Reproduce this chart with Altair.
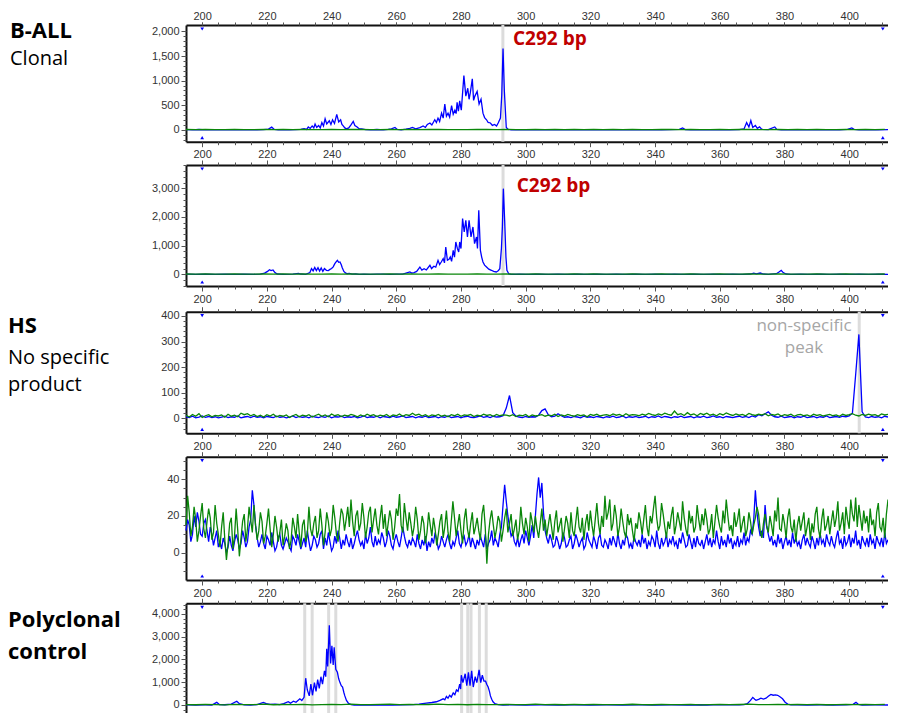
import altair as alt
import pandas as pd

W, H = 880, 705
XDOM = [195, 412]
XRANGE = [178, 880]
XMAJOR = list(range(200, 401, 20))
XMINOR = list(range(200, 411, 5))

# ---------------- data (bp, signal) ----------------
p1_blue = [
    (195.2, 5), (197, 0), (199, 8), (201, 0), (203, 5), (205, 0), (207, 3), (209, 0), (211, 6), (213, 0),
    (215, 4), (217, 0), (219, 5), (220.5, 15), (221.5, 55), (222.3, 10), (223.5, 0), (225, 5), (227, 0),
    (229, 6), (230.5, 10), (231.5, 25), (232.3, 10), (232.8, 60), (233.4, 30), (234, 80), (234.5, 40),
    (234.9, 120), (235.4, 50), (236, 90), (236.5, 40), (237, 150), (237.5, 80), (238, 225), (238.5, 120),
    (239.3, 185), (239.8, 110), (240.3, 205), (240.9, 130), (241.6, 314), (242.2, 160), (242.8, 205),
    (243.2, 110), (243.6, 80), (244.1, 40), (244.6, 20), (245.3, 40), (246, 100), (246.7, 170), (247.2, 90),
    (247.9, 60), (248.5, 25), (249.3, 20), (250.5, 5), (252, 0), (254, 8), (256, 0), (257.5, 10), (258.5, 20),
    (259.6, 50), (260.3, 10), (261.5, 0), (263, 15), (264.2, 30), (265, 50), (266, 20), (267.3, 45),
    (268.3, 80), (269, 50), (269.6, 110), (270.4, 140), (271, 100), (271.9, 205), (272.4, 150), (272.9, 240),
    (273.4, 170), (274, 340), (274.5, 240), (275, 525), (275.5, 280), (276, 340), (276.5, 260), (277.1, 495),
    (277.6, 320), (278.1, 400), (278.5, 330), (278.8, 560), (279.2, 380), (279.6, 590), (280.1, 400),
    (280.9, 1103), (281.5, 686), (282.1, 846), (282.5, 622), (282.9, 760), (283.5, 1038), (283.9, 600),
    (284.3, 686), (285, 782), (285.6, 525), (286.2, 622), (286.8, 340), (287.3, 250), (287.9, 205),
    (288.4, 150), (289.1, 140), (289.7, 90), (290.4, 110), (291, 80), (291.5, 140), (292.2, 240),
    (292.6, 700), (293.0, 1650), (293.4, 800), (294.0, 50), (294.6, 10), (295.5, 0), (297, 5), (300, 0),
    (303, 6), (306, 0), (309, 5), (312, 0), (315, 4), (318, 0), (321, 5), (324, 0), (327, 6), (330, 0),
    (333, 5), (336, 0), (339, 4), (342, 0), (345, 5), (347.5, 10), (348.5, 40), (349.3, 5), (351, 0),
    (354, 5), (357, 0), (360, 4), (363, 0), (366, 5), (367.5, 20), (368.3, 150), (369, 60), (369.6, 190),
    (370.2, 50), (371, 90), (371.6, 30), (372.3, 60), (373, 10), (375, 5), (377, 60), (377.6, 10), (379, 0),
    (382, 5), (385, 0), (388, 4), (391, 0), (394, 5), (397, 0), (399.5, 10), (400.8, 40), (401.5, 10),
    (403, 0), (406, 5), (409, 0), (412, 4),
]
p1_green = [8, 5, 10, 6, 4, 9, 7, 5, 11, 6, 8, 4, 10, 7, 5, 9, 6, 12, 8, 5, 7, 10, 6, 9, 4, 8, 11, 6, 7, 5,
            10, 8, 6, 9, 5, 7, 12, 6, 8, 4, 9, 7, 10, 5, 8, 6, 11, 7, 5, 9, 8, 6, 10, 4, 7, 9, 5, 8, 11, 6,
            7, 10, 5, 8, 6, 9, 4, 7, 10, 6, 8, 5, 9]

p2_blue = [
    (195.2, 5), (198, 0), (201, 6), (204, 0), (207, 5), (210, 0), (213, 4), (216, 0), (218, 5), (219.3, 40),
    (220.2, 100), (220.8, 160), (221.3, 130), (221.9, 150), (222.5, 60), (223.2, 10), (225, 0), (228, 5),
    (229.8, 30), (230.3, 10), (232, 0), (233.3, 60), (233.8, 200), (234.3, 120), (234.8, 240), (235.3, 130),
    (235.8, 230), (236.3, 110), (236.8, 220), (237.3, 100), (237.8, 200), (238.4, 140), (239.0, 130),
    (239.5, 170), (240.0, 200), (240.5, 260), (241.0, 370), (241.4, 430), (241.8, 488), (242.2, 420),
    (242.6, 430), (243.0, 330), (243.3, 230), (243.8, 100), (244.3, 50), (244.8, 20), (245.5, 30),
    (246.3, 5), (247.5, 10), (248.5, 0), (250, 5), (252, 0), (254, 8), (256, 5), (258, 0), (260, 3),
    (262, 5), (264.2, 82), (264.8, 40), (265.5, 60), (266.3, 100), (267.3, 254), (267.9, 150), (268.6, 197),
    (269.3, 150), (270.4, 313), (270.9, 200), (271.6, 280), (272.2, 250), (272.9, 488), (273.4, 340),
    (273.9, 430), (274.5, 546), (274.9, 400), (275.3, 953), (275.8, 488), (276.3, 520), (276.7, 604),
    (277.1, 450), (277.6, 837), (278.0, 600), (278.4, 1128), (278.9, 895), (279.3, 780), (279.6, 1128),
    (280.0, 900), (280.5, 1942), (281.0, 1477), (281.5, 1884), (282.0, 1302), (282.5, 1884), (283.1, 1302),
    (283.7, 1651), (284.2, 1070), (284.8, 1302), (285.1, 900), (285.5, 2233), (286.0, 837), (286.4, 600),
    (286.8, 430), (287.3, 320), (287.9, 254), (288.6, 180), (289.4, 140), (290.1, 100), (290.9, 82),
    (291.5, 120), (292.0, 197), (292.5, 900), (292.8, 1651), (293.1, 2988), (293.5, 1884), (293.9, 600),
    (294.2, 140), (294.8, 10), (295.5, 0), (298, 5), (301, 0), (304, 6), (307, 0), (310, 5), (313, 0),
    (316, 4), (319, 0), (322, 6), (325, 0), (328, 5), (331, 0), (334, 4), (337, 0), (340, 6), (343, 0),
    (346, 5), (349, 0), (352, 4), (355, 0), (358, 6), (361, 0), (364, 5), (367, 0), (369.5, 10),
    (370.5, 40), (371.3, 15), (372.5, 45), (373.5, 10), (375, 0), (377.5, 20), (378.3, 80), (379, 140),
    (379.6, 60), (380.5, 10), (382, 0), (385, 5), (388, 0), (391, 4), (394, 0), (397, 5), (400, 0),
    (403, 6), (406, 0), (409, 5), (412, 0),
]
p2_green = [10, 6, 12, 8, 5, 11, 7, 9, 13, 6, 10, 5, 12, 8, 7, 11, 6, 14, 9, 6, 8, 12, 7, 10, 5, 9, 13, 7,
            8, 6, 12, 9, 7, 11, 6, 8, 14, 7, 9, 5, 10, 8, 12, 6, 9, 7, 13, 8, 6, 10, 9, 7, 12, 5, 8, 10, 6,
            9, 13, 7, 8, 12, 6, 9, 7, 10, 5, 8, 12, 7, 9, 6, 10]

p3_blue = [6, 3, 8, 2, 5, 9, 4, 7, 3, 6,
           2, 5, 8, 3, 6, 4, 9, 2, 5, 7,
           3, 8, 4, 6, 2, 7, 5, 3, 8, 4,
           6, 2, 5, 9, 3, 7, 4, 6, 2, 8,
           5, 3, 7, 4, 9, 2, 6, 5, 8, 3,
           6, 4, 7, 2, 5, 9, 3, 6, 4, 8,
           2, 7, 5, 3, 8, 4, 6, 9, 3, 5,
           7, 2, 6, 4, 8, 3, 5, 7, 2, 6,
           4, 9, 3, 5, 7, 2, 6, 8, 4, 3,
           6, 9, 4, 7, 3, 8, 5, 6, 10, 40,
           89, 22, 8, 5, 3, 7, 4, 6, 5, 12,
           30, 37, 14, 6, 8, 18, 10, 4, 6, 3,
           7, 5, 2, 8, 4, 6, 3, 7, 5, 2,
           6, 4, 8, 3, 5, 9, 2, 6, 4, 7,
           3, 5, 8, 2, 6, 4, 9, 3, 7, 5,
           2, 6, 4, 8, 3, 5, 7, 2, 6, 4,
           8, 3, 5, 9, 4, 6, 2, 7, 5, 3,
           6, 8, 4, 7, 3, 9, 5, 14, 10, 18,
           25, 12, 6, 4, 8, 3, 5, 7, 2, 6,
           4, 8, 3, 5, 7, 2, 6, 4, 9, 3,
           5, 7, 4, 8, 6, 9, 20, 170, 328, 25,
           5, 3, 7, 4, 6, 2, 8, 5]
p3_green = [12, 5, 15, 8, 18, 3, 10, 14, 6, 11,
            9, 13, 4, 16, 8, 12, 6, 20, 14, 18,
            10, 15, 7, 12, 5, 14, 9, 16, 6, 11,
            8, 13, 3, 10, 15, 6, 12, 9, 14, 5,
            11, 16, 8, 13, 6, 17, 10, 14, 7, 12,
            9, 15, 11, 6, 13, 8, 16, 10, 14, 7,
            12, 9, 15, 6, 13, 10, 17, 8, 14, 11,
            20, 12, 16, 9, 14, 7, 13, 10, 15, 8,
            12, 6, 14, 10, 16, 8, 13, 11, 15, 7,
            12, 9, 16, 11, 14, 8, 15, 10, 13, 12,
            9, 14, 7, 12, 10, 15, 6, 13, 9, 11,
            14, 8, 12, 10, 16, 7, 13, 9, 15, 11,
            8, 14, 10, 13, 6, 15, 11, 16, 9, 12,
            14, 10, 17, 12, 15, 9, 18, 11, 14, 13,
            10, 16, 12, 19, 14, 11, 17, 13, 20, 15,
            12, 28, 14, 18, 11, 22, 13, 17, 10, 19,
            14, 20, 12, 16, 10, 18, 13, 21, 15, 11,
            17, 12, 15, 10, 19, 14, 11, 16, 13, 18,
            10, 15, 12, 17, 9, 14, 11, 16, 8, 13,
            15, 10, 13, 8, 16, 11, 14, 9, 12, 15,
            10, 13, 8, 16, 11, 14, 18, 12, 9, 15,
            11, 16, 12, 14, 9, 17, 13, 15]

p4_blue = [12, 18, 15, 6, 10, 20, 14, 22, 17, 10, 9, 16, 18, 12, 6, 14, 10, 4, 8, 12,
           3, 6, 2, 8, 5, 0, 3, 9, 4, 1, 6, 10, 7, 2, 5, 12, 8, 3, 6, 14,
           18, 34, 26, 15, 8, 3, 6, 10, 5, 2, 9, 7, 4, 11, 6, 1, 3, 8, 10, 4,
           2, 5, 8, 6, 3, 1, 9, 7, 4, 10, 6, 2, 5, 8, 3, 12, 6, 1, 4, 9,
           7, 3, 5, 10, 12, 2, 8, 4, 11, 6, 1, 3, 9, 5, 12, 8, 2, 7, 4, 10,
           6, 3, 8, 2, 5, 9, 12, 7, 4, 6, 2, 10, 5, 8, 14, 6, 3, 9, 4, 7,
           5, 11, 8, 3, 6, 12, 9, 4, 2, 7, 10, 6, 3, 8, 14, 9, 5, 3, 7, 4,
           8, 6, 3, 10, 5, 2, 7, 4, 9, 1, 6, 3, 8, 5, 11, 7, 2, 4, 9, 6,
           3, 7, 10, 5, 2, 6, 4, 8, 12, 5, 3, 7, 9, 4, 6, 10, 3, 8, 5, 2,
           7, 4, 9, 6, 3, 10, 2, 5, 7, 12, 4, 8, 6, 3, 10, 14, 26, 37, 28, 20,
           14, 9, 11, 6, 4, 8, 3, 7, 10, 5, 12, 8, 4, 9, 15, 8, 20, 32, 41, 30,
           38, 22, 12, 8, 5, 10, 7, 3, 4, 9, 6, 2, 5, 11, 8, 3, 4, 7, 9, 2,
           5, 10, 7, 3, 6, 8, 2, 4, 11, 7, 5, 3, 9, 6, 2, 8, 10, 4, 3, 7,
           5, 2, 8, 4, 9, 6, 3, 11, 5, 2, 7, 4, 10, 8, 3, 5, 2, 9, 6, 4,
           7, 3, 10, 5, 8, 2, 6, 4, 9, 7, 3, 12, 5, 2, 8, 4, 6, 10, 3, 7,
           5, 9, 4, 6, 2, 8, 5, 11, 7, 3, 4, 10, 6, 2, 8, 3, 9, 5, 4, 7,
           2, 6, 10, 4, 8, 3, 7, 5, 12, 6, 2, 9, 4, 7, 3, 10, 5, 8, 2, 6,
           4, 9, 3, 7, 5, 11, 4, 8, 6, 12, 10, 18, 34, 22, 14, 9, 12, 8, 26, 15,
           10, 6, 9, 4, 7, 3, 10, 5, 8, 2, 6, 9, 4, 7, 3, 11, 5, 8, 4, 6,
           2, 7, 10, 4, 8, 5, 3, 9, 6, 2, 8, 4, 11, 5, 7, 3, 10, 6, 4, 9,
           5, 3, 8, 12, 5, 7, 2, 9, 4, 6, 10, 3, 8, 5, 12, 4, 7, 2, 9, 6,
           4, 8, 3, 10, 5, 7, 2, 9, 6, 4, 8, 3, 11, 5, 7]
p4_green = [15, 31, 22, 9, 14, 25, 18, 6, 12, 20, 27, 13, 8, 17, 24, 19, 7, 11, 26, 16,
            10, 3, 14, 22, 7, -4, 5, 16, 19, 2, 9, 24, 12, -2, 8, 17, 21, 6, 13, 25,
            18, 11, 26, 15, 7, 12, 22, 17, 5, 9, 16, 24, 13, 3, 10, 20, 14, 6, 11, 18,
            4, 9, 16, 12, 2, 7, 19, 14, 8, 21, 11, 3, 15, 18, 6, 10, 25, 13, 9, 16,
            20, 8, 12, 24, 15, 4, 11, 22, 17, 9, 13, 26, 19, 10, 6, 16, 24, 21, 12, 18,
            25, 14, 29, 17, 9, 20, 23, 12, 16, 27, 19, 8, 14, 22, 25, 11, 18, 24, 15, 10,
            19, 26, 13, 21, 9, 16, 23, 18, 7, 14, 24, 20, 32, 15, 11, 27, 19, 12, 22, 16,
            9, 14, 25, 18, 7, 12, 20, 16, 5, 11, 22, 15, 9, 19, 13, 4, 10, 17, 21, 8,
            14, 23, 11, 6, 17, 28, 19, 9, 15, 21, 12, 5, 18, 24, 13, 8, 16, 22, 10, 14,
            19, 12, 7, 21, 26, 14, -6, 10, 18, 23, 15, 8, 13, 20, 17, 6, 12, 19, 24, 11,
            16, 21, 9, 13, 18, 7, 12, 25, 16, 10, 19, 14, 6, 22, 17, 11, 20, 13, 8, 16,
            24, 12, 18, 9, 15, 21, 14, 7, 17, 23, 11, 15, 19, 6, 13, 20, 16, 8, 22, 12,
            9, 17, 25, 14, 11, 19, 7, 16, 21, 12, 23, 15, 9, 18, 27, 16, 10, 20, 14, 31,
            18, 22, 29, 12, 16, 26, 20, 9, 14, 24, 17, 11, 8, 21, 15, 19, 12, 6, 16, 13,
            22, 17, 10, 18, 26, 14, 9, 20, 16, 24, 31, 19, 12, 15, 27, 21, 14, 8, 17, 13,
            20, 25, 10, 15, 22, 17, 12, 28, 19, 13, 9, 23, 16, 20, 11, 14, 26, 18, 12, 21,
            15, 24, 18, 10, 13, 21, 8, 17, 26, 19, 14, 11, 23, 16, 29, 20, 12, 15, 9, 22,
            14, 18, 24, 11, 16, 20, 9, 13, 22, 17, 10, 15, 19, 25, 21, 12, 8, 16, 21, 14,
            11, 20, 15, 9, 23, 17, 30, 13, 12, 21, 16, 8, 19, 24, 14, 11, 18, 6, 15, 20,
            12, 17, 22, 9, 14, 19, 7, 16, 11, 21, 25, 13, 8, 18, 24, 12, 15, 20, 10, 17,
            23, 14, 19, 28, 12, 16, 22, 10, 25, 18, 13, 29, 21, 17, 30, 14, 26, 19, 12, 23,
            16, 20, 11, 24, 15, 18, 9, 22, 27, 14, 12, 19, 8, 21, 29]

p5_blue = [
    (195.2, 5), (198, 0), (201, 3), (203, 0), (204.5, 116), (205.3, 20), (207, 10), (209, 40), (210.7, 168),
    (211.5, 60), (213, 10), (215, 0), (217, 20), (218.9, 116), (219.8, 60), (221, 30), (222.5, 40),
    (224, 20), (225.2, 60), (226.6, 142), (227.3, 80), (228.2, 170), (229, 120), (230.2, 272), (230.8, 200),
    (231.5, 336), (232.0, 1178), (232.5, 660), (233.1, 400), (233.6, 918), (234.1, 427), (234.7, 984),
    (235.2, 595), (235.7, 1113), (236.2, 725), (236.7, 1243), (237.2, 918), (237.8, 1502), (238.2, 1243),
    (238.5, 2473), (238.8, 1696), (239.3, 3508), (239.7, 1826), (240.1, 2602), (240.5, 1761), (240.8, 2537),
    (241.3, 1567), (241.8, 1437), (242.2, 1150), (242.6, 984), (243.0, 850), (243.4, 790), (243.8, 550),
    (244.1, 400), (244.6, 200), (245.2, 78), (246, 20), (247, 0), (250, 5), (253, 0), (256, 8), (259, 0),
    (262, 5), (265.2, 20), (267, 40), (269.3, 78), (271, 110), (272.4, 142), (273.5, 200), (274.5, 272),
    (275, 230), (275.5, 375), (276, 300), (276.5, 427), (277, 350), (277.6, 530), (278.1, 450), (278.6, 660),
    (279.1, 600), (279.6, 918), (279.9, 700), (280.1, 1307), (280.6, 984), (281.3, 1373), (281.8, 854),
    (282.3, 1437), (282.8, 854), (283.3, 1502), (283.8, 790), (284.4, 1243), (284.9, 984), (285.6, 1540),
    (286.1, 984), (286.6, 1307), (287.1, 1048), (287.6, 1048), (288.0, 900), (288.4, 790), (288.8, 600),
    (289.1, 400), (289.5, 250), (289.9, 142), (290.5, 60), (291.5, 20), (293, 0), (296, 5), (300, 0),
    (305, 6), (310, 0), (315, 5), (320, 0), (325, 4), (330, 0), (335, 5), (340, 0), (345, 5), (350, 0),
    (353, 10), (356, 0), (358, 10), (360, 5), (363, 5), (366, 10), (367.5, 20), (368.5, 60), (369.5, 200),
    (370.2, 334), (370.8, 250), (371.2, 207), (372, 250), (372.7, 297), (373.5, 260), (374.3, 297),
    (375, 380), (375.8, 466), (376.5, 430), (377.2, 445), (377.9, 427), (378.7, 350), (379.4, 272),
    (380.2, 120), (381, 40), (382, 10), (384, 5), (387, 0), (391, 4), (395, 0), (399, 5), (401.2, 30),
    (402.1, 116), (402.8, 30), (404, 0), (408, 5), (412, 0),
]
p5_green = [20, 10, 30, 15, 8, 25, 12, 18, 35, 10, 22, 14, 28, 9, 16, 30, 12, 40, 20, 15, 25, 35, 18, 28,
            12, 22, 38, 16, 24, 10, 30, 20, 15, 28, 12, 18, 35, 14, 22, 10, 26, 16, 30, 12, 20, 15, 32, 18,
            10, 25, 20, 14, 30, 8, 18, 26, 12, 22, 34, 16, 20, 30, 12, 24, 15, 28, 10, 18, 30, 14, 22, 12, 25]

# highlighted sizes (grey bands)
p1_marks = [292.95]
p2_marks = [293.0]
p3_marks = [403.1]
p5_marks = [231.7, 234.0, 239.1, 241.3, 280.2, 282.1, 283.1, 285.7, 287.8]
bin_marks = [200, 410.4]


def pairs_df(pairs):
    return pd.DataFrame({"bp": [p[0] for p in pairs], "val": [p[1] for p in pairs]})


def grid_df(start, step, vals):
    return pd.DataFrame({"bp": [start + step * i for i in range(len(vals))], "val": vals})


PANELS = [
    dict(top=17.0, bottom=133.7, dom=[-240.0, 2130.0], ymaj=list(range(0, 2001, 500)),
         ymin=list(range(-200, 2001, 100)), blue=pairs_df(p1_blue), green=grid_df(195, 3, p1_green),
         top_labels=True, bottom_axis=True, marks=p1_marks),
    dict(top=157.0, bottom=278.0, dom=[-408.1, 3812.8], ymaj=list(range(0, 3001, 1000)),
         ymin=list(range(-400, 3801, 200)), blue=pairs_df(p2_blue), green=grid_df(195, 3, p2_green),
         top_labels=False, bottom_axis=True, marks=p2_marks),
    dict(top=303.7, bottom=425.3, dom=[-58.7, 416.8], ymaj=list(range(0, 401, 100)),
         ymin=list(range(-40, 401, 20)), blue=grid_df(195, 1, p3_blue), green=grid_df(195, 1, p3_green),
         top_labels=False, bottom_axis=True, marks=p3_marks),
    dict(top=448.7, bottom=572.0, dom=[-14.9, 52.3], ymaj=[0, 20, 40],
         ymin=list(range(-10, 51, 5)), blue=grid_df(195, 0.5, p4_blue), green=grid_df(195, 0.5, p4_green),
         top_labels=False, bottom_axis=True, marks=[]),
    dict(top=595.3, bottom=705.0, dom=[-352.0, 4470.0], ymaj=list(range(0, 4001, 1000)),
         ymin=list(range(-200, 4401, 200)), blue=pairs_df(p5_blue), green=grid_df(195, 3, p5_green),
         top_labels=False, bottom_axis=False, marks=p5_marks),
]

AXSTYLE = dict(grid=False, title=None, labelFont="Liberation Sans", labelFontSize=11, labelColor="#333333",
               tickColor="#555555", tickWidth=1, labelOverlap=False, labelFlush=False,
               domainColor="#111111", domainWidth=2)


def xaxis(orient, offset, major, labels, tick=None, pad=2):
    if tick is None:
        tick = 5 if major else 3
    return alt.Axis(orient=orient, offset=offset, values=XMAJOR if major else XMINOR, labels=labels,
                    domain=major, tickSize=tick, labelPadding=pad, format="d", **AXSTYLE)


def yaxis(values, major):
    return alt.Axis(orient="left", offset=-XRANGE[0], values=values, labels=major, domain=major,
                    tickSize=5 if major else 3, labelPadding=2, format=",d", **AXSTYLE)


def panel(p):
    def xs(axis):
        return alt.X("bp:Q", scale=alt.Scale(domain=XDOM, range=XRANGE, nice=False, zero=False), axis=axis)

    def ys(axis):
        return alt.Y("val:Q", scale=alt.Scale(domain=p["dom"], range=[p["bottom"], p["top"]],
                                              nice=False, zero=False), axis=axis)

    layers = []
    if p["marks"]:
        layers.append(alt.Chart(pd.DataFrame({"bp": p["marks"]})).mark_rule(
            color="#dcdcdc", strokeWidth=3).encode(
            x=xs(None), y=alt.value(p["top"]), y2=alt.value(p["bottom"])))
    bottom_major = xaxis("bottom", p["bottom"] - H, True, True) if p["bottom_axis"] else None
    layers.append(alt.Chart(p["blue"]).mark_line(color="#0000ff", strokeWidth=1.3).encode(
        x=xs(bottom_major), y=ys(yaxis(p["ymaj"], True))))
    if p["top_labels"]:
        top_major = xaxis("top", -p["top"], True, True, tick=3, pad=1)
    else:
        top_major = xaxis("top", -p["top"], True, False)
    layers.append(alt.Chart(p["green"]).mark_line(color="#0a860a", strokeWidth=1.3).encode(
        x=xs(top_major), y=ys(yaxis(p["ymin"], False))))
    layers.append(alt.Chart(p["green"]).mark_line(strokeOpacity=0).encode(
        x=xs(xaxis("top", -p["top"], False, False)), y=ys(None)))
    if p["bottom_axis"]:
        layers.append(alt.Chart(p["green"]).mark_line(strokeOpacity=0).encode(
            x=xs(xaxis("bottom", p["bottom"] - H, False, False)), y=ys(None)))
    bdf = pd.DataFrame({"bp": bin_marks})
    layers.append(alt.Chart(bdf).mark_point(shape="triangle-down", filled=True, size=14, color="#0000ff",
                                            opacity=1).encode(x=xs(None), y=alt.value(p["top"] + 4)))
    if p["bottom_axis"]:
        layers.append(alt.Chart(bdf).mark_point(shape="triangle-up", filled=True, size=14, color="#0000ff",
                                                opacity=1).encode(x=xs(None), y=alt.value(p["bottom"] - 4)))
    return alt.layer(*layers).resolve_axis(x="independent", y="independent")


# text annotations: (text, x, y, size, weight, color, align)
notes = [
    ("B-ALL", 2, 30, 22, "bold", "#000000", "left"),
    ("Clonal", 2, 57, 20, "normal", "#000000", "left"),
    ("HS", 0, 325, 22, "bold", "#000000", "left"),
    ("No specific", 0, 356, 20, "normal", "#000000", "left"),
    ("product", 0, 383, 20, "normal", "#000000", "left"),
    ("Polyclonal", 0, 619, 22, "bold", "#000000", "left"),
    ("control", 0, 651, 22, "bold", "#000000", "left"),
    ("C292 bp", 505, 37, 19, "bold", "#c00000", "left"),
    ("C292 bp", 508.7, 183.7, 19, "bold", "#c00000", "left"),
    ("non-specific", 796, 322.7, 17, "normal", "#a6a6a6", "center"),
    ("peak", 796, 345.3, 17, "normal", "#a6a6a6", "center"),
]

note_layers = []
for t, x, y, s, w, c, a in notes:
    note_layers.append(alt.Chart(pd.DataFrame({"t": [t]})).mark_text(
        font="Open Sans", fontSize=s, fontWeight=w, color=c, align=a, baseline="alphabetic").encode(
        text="t:N", x=alt.value(x), y=alt.value(y)))

chart = alt.layer(*[panel(p) for p in PANELS], *note_layers).resolve_scale(
    y="independent").resolve_axis(x="independent", y="independent").properties(
    width=W, height=H, padding=0, autosize=alt.AutoSizeParams(type="none")).configure_view(stroke=None)

chart.save("out.html", embed_options={"renderer": "svg", "actions": False})
